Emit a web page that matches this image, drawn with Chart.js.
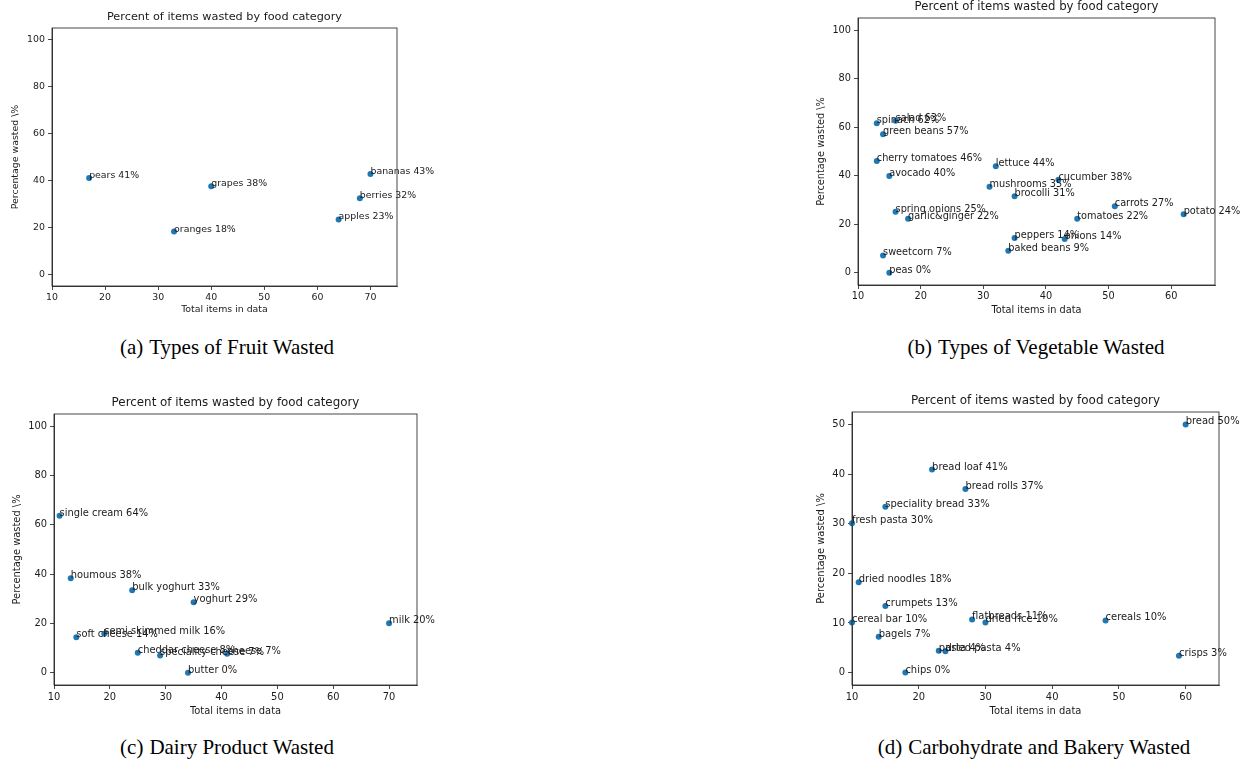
<!DOCTYPE html>
<html>
<head>
<meta charset="utf-8">
<title>Percent of items wasted by food category</title>
<script src="https://cdn.jsdelivr.net/npm/chart.js@4.4.0/dist/chart.umd.min.js"></script>
<style>
    body {
        margin: 0;
        width: 1243px;
        height: 759px;
        position: relative;
        overflow: hidden;
        background: #fff;
    }
    .panel {
        position: absolute;
    }
    .caption {
        position: absolute;
        font-family: "Liberation Serif", "Times New Roman", serif;
        font-size: 21px;
        line-height: 21px;
        color: #000;
        white-space: nowrap;
        transform: translateX(-50%);
    }
    .caption span {
        margin-right: 6px;
    }
</style>
</head>
<body>
<div class="panel" id="fruitPanel"></div>
<div class="panel" id="vegPanel"></div>
<div class="panel" id="dairyPanel"></div>
<div class="panel" id="carbPanel"></div>

<div class="caption" style="left:227px; top:337px;"><span>(a)</span>Types of Fruit Wasted</div>
<div class="caption" style="left:1036px; top:337px;"><span>(b)</span>Types of Vegetable Wasted</div>
<div class="caption" style="left:227px; top:737px;"><span>(c)</span>Dairy Product Wasted</div>
<div class="caption" style="left:1034px; top:737px;"><span>(d)</span>Carbohydrate and Bakery Wasted</div>

<script>
// ---- data ----
const fruitNames = ['pears', 'grapes', 'oranges', 'bananas', 'berries', 'apples'];
const fruitTotals = [17, 40, 33, 70, 68, 64];
const fruitWasted = [41, 37.5, 18.2, 42.7, 32.4, 23.4];
const fruitPct = [41, 38, 18, 43, 32, 23];

const vegNames = ['spinach', 'salad', 'green beans', 'cherry tomatoes', 'avocado', 'lettuce',
    'mushrooms', 'cucumber', 'brocolli', 'carrots', 'potato', 'tomatoes', 'spring onions',
    'garlic&ginger', 'peppers', 'onions', 'baked beans', 'sweetcorn', 'peas'];
const vegTotals = [13, 16, 14, 13, 15, 32, 31, 42, 35, 51, 62, 45, 16, 18, 35, 43, 34, 14, 15];
const vegWasted = [61.6, 62.7, 57.1, 46.1, 39.9, 43.9, 35.5, 38.4, 31.6, 27.4, 24.1, 22.3, 25.2,
    22.3, 14.4, 14.0, 9.1, 7.2, 0];
const vegPct = [62, 63, 57, 46, 40, 44, 35, 38, 31, 27, 24, 22, 25, 22, 14, 14, 9, 7, 0];

const dairyNames = ['single cream', 'houmous', 'bulk yoghurt', 'yoghurt', 'milk', 'soft cheese',
    'semi skimmed milk', 'cheddar cheese', 'speciality cheese', 'cheese', 'butter'];
const dairyTotals = [11, 13, 24, 35, 70, 14, 19, 25, 29, 41, 34];
const dairyWasted = [63.7, 38.3, 33.5, 28.6, 20.1, 14.4, 15.8, 8.1, 7.0, 7.7, 0];
const dairyPct = [64, 38, 33, 29, 20, 14, 16, 8, 7, 7, 0];

const carbNames = ['bread', 'bread loaf', 'bread rolls', 'speciality bread', 'fresh pasta',
    'dried noodles', 'crumpets', 'cereal bar', 'flatbreads', 'dried rice', 'cereals', 'bagels',
    'pasta', 'dried pasta', 'crisps', 'chips'];
const carbTotals = [60, 22, 27, 15, 10, 11, 15, 10, 28, 30, 48, 14, 23, 24, 59, 18];
const carbWasted = [50, 40.9, 37.0, 33.4, 30.1, 18.2, 13.4, 10.1, 10.7, 10.1, 10.5, 7.2, 4.4, 4.3, 3.4, 0];
const carbPct = [50, 41, 37, 33, 30, 18, 13, 10, 11, 10, 10, 7, 4, 4, 3, 0];

const pctTicks = [0, 20, 40, 60, 80, 100];
const carbPctTicks = [0, 10, 20, 30, 40, 50];
const totalTicksTo70 = [10, 20, 30, 40, 50, 60, 70];
const totalTicksTo60 = [10, 20, 30, 40, 50, 60];

const TITLE = 'Percent of items wasted by food category';
const X_TITLE = 'Total items in data';
const Y_TITLE = 'Percentage wasted \\%';

const INK = '#1a1a1a';
const DOT = '#1f77b4';

Chart.defaults.font.family = '"DejaVu Sans", sans-serif';
Chart.defaults.color = INK;

// labels "name NN%" drawn at each point (left / baseline), plus the 4-sided frame
function makeLabelPlugin(labels, size) {
    return {
        id: 'pointLabels',
        afterDatasetsDraw(chart) {
            const ctx = chart.ctx;
            const a = chart.chartArea;
            ctx.save();
            ctx.strokeStyle = INK;
            ctx.lineWidth = 0.8;
            ctx.strokeRect(a.left, a.top, a.right - a.left, a.bottom - a.top);
            ctx.font = size + 'px "DejaVu Sans"';
            ctx.fillStyle = INK;
            ctx.textAlign = 'left';
            ctx.textBaseline = 'alphabetic';
            chart.getDatasetMeta(0).data.forEach((pt, i) => {
                ctx.fillText(labels[i], pt.x, pt.y);
            });
            ctx.restore();
        }
    };
}

function createPanel(p) {
    const canvasLeft = p.plot.l - 52;
    const canvasTop = p.plot.t - 30;
    const width = p.plot.r - canvasLeft + 60;
    const height = p.plot.b - canvasTop + 36;

    const wrap = document.getElementById(p.id);
    wrap.style.left = canvasLeft + 'px';
    wrap.style.top = canvasTop + 'px';
    const canvas = document.createElement('canvas');
    canvas.width = width;
    canvas.height = height;
    wrap.appendChild(canvas);

    const fs = p.fontSize;
    const lh = fs * 1.2;
    const titleSize = fs * 1.2;
    const titleTop = p.titleY - canvasTop - titleSize * 0.6;

    const labels = p.names.map((n, i) => n + ' ' + p.pct[i] + '%');
    const points = p.xs.map((x, i) => ({ x: x, y: p.ys[i] }));

    const tickGrid = {
        display: true,
        drawOnChartArea: false,
        drawTicks: true,
        tickLength: 4,
        color: INK,
        lineWidth: 0.8
    };

    new Chart(canvas, {
        type: 'scatter',
        data: {
            datasets: [{
                data: points,
                backgroundColor: DOT,
                borderWidth: 0,
                pointRadius: 3,
                pointHoverRadius: 3,
                clip: false
            }]
        },
        options: {
            responsive: false,
            animation: false,
            devicePixelRatio: 1,
            layout: {
                padding: { left: 0, top: 0, bottom: 0, right: width - (p.plot.r - canvasLeft) }
            },
            plugins: {
                legend: { display: false },
                tooltip: { enabled: false },
                title: {
                    display: true,
                    text: TITLE,
                    fullSize: false,
                    color: INK,
                    font: { size: titleSize, weight: 'normal' },
                    padding: { top: titleTop, bottom: 30 - titleTop - titleSize * 1.2 }
                }
            },
            scales: {
                x: {
                    type: 'linear',
                    min: p.xMin,
                    max: p.xMax,
                    afterBuildTicks: (s) => { s.ticks = p.xTicks.map(v => ({ value: v })); },
                    afterFit: (s) => { s.height = height - (p.plot.b - canvasTop); },
                    ticks: { font: { size: fs }, color: INK, padding: 2, autoSkip: false, maxRotation: 0, callback: v => v },
                    grid: tickGrid,
                    border: { display: true, color: INK, width: 0.8 },
                    title: {
                        display: true,
                        text: X_TITLE,
                        color: INK,
                        font: { size: fs },
                        padding: { top: 0, bottom: (canvasTop + height) - p.xTitleY - lh / 2 }
                    }
                },
                y: {
                    type: 'linear',
                    min: p.yMin,
                    max: p.yMax,
                    afterBuildTicks: (s) => { s.ticks = p.yTicks.map(v => ({ value: v })); },
                    afterFit: (s) => { s.width = 52; },
                    ticks: { font: { size: fs }, color: INK, padding: 3, autoSkip: false, callback: v => v },
                    grid: tickGrid,
                    border: { display: true, color: INK, width: 0.8 },
                    title: {
                        display: true,
                        text: Y_TITLE,
                        color: INK,
                        font: { size: fs },
                        padding: { top: p.yTitleX - canvasLeft - lh / 2, bottom: 0 }
                    }
                }
            }
        },
        plugins: [makeLabelPlugin(labels, fs)]
    });
}

createPanel({
    id: 'fruitPanel', plot: { l: 52, r: 397, t: 28, b: 286 },
    names: fruitNames, xs: fruitTotals, ys: fruitWasted, pct: fruitPct,
    xMin: 10, xMax: 75, yMin: -5, yMax: 105, xTicks: totalTicksTo70, yTicks: pctTicks,
    fontSize: 9.4, titleY: 17, yTitleX: 16, xTitleY: 310
});

createPanel({
    id: 'vegPanel', plot: { l: 858, r: 1215, t: 18, b: 285 },
    names: vegNames, xs: vegTotals, ys: vegWasted, pct: vegPct,
    xMin: 10, xMax: 67, yMin: -5, yMax: 105, xTicks: totalTicksTo60, yTicks: pctTicks,
    fontSize: 9.75, titleY: 7, yTitleX: 821, xTitleY: 310
});

createPanel({
    id: 'dairyPanel', plot: { l: 54, r: 417, t: 414, b: 685 },
    names: dairyNames, xs: dairyTotals, ys: dairyWasted, pct: dairyPct,
    xMin: 10, xMax: 75, yMin: -5, yMax: 105, xTicks: totalTicksTo70, yTicks: pctTicks,
    fontSize: 9.9, titleY: 403, yTitleX: 17, xTitleY: 711
});

createPanel({
    id: 'carbPanel', plot: { l: 852, r: 1219, t: 412, b: 685 },
    names: carbNames, xs: carbTotals, ys: carbWasted, pct: carbPct,
    xMin: 10, xMax: 65, yMin: -2.5, yMax: 52.5, xTicks: totalTicksTo60, yTicks: carbPctTicks,
    fontSize: 9.95, titleY: 401, yTitleX: 821, xTitleY: 711
});
</script>
</body>
</html>
